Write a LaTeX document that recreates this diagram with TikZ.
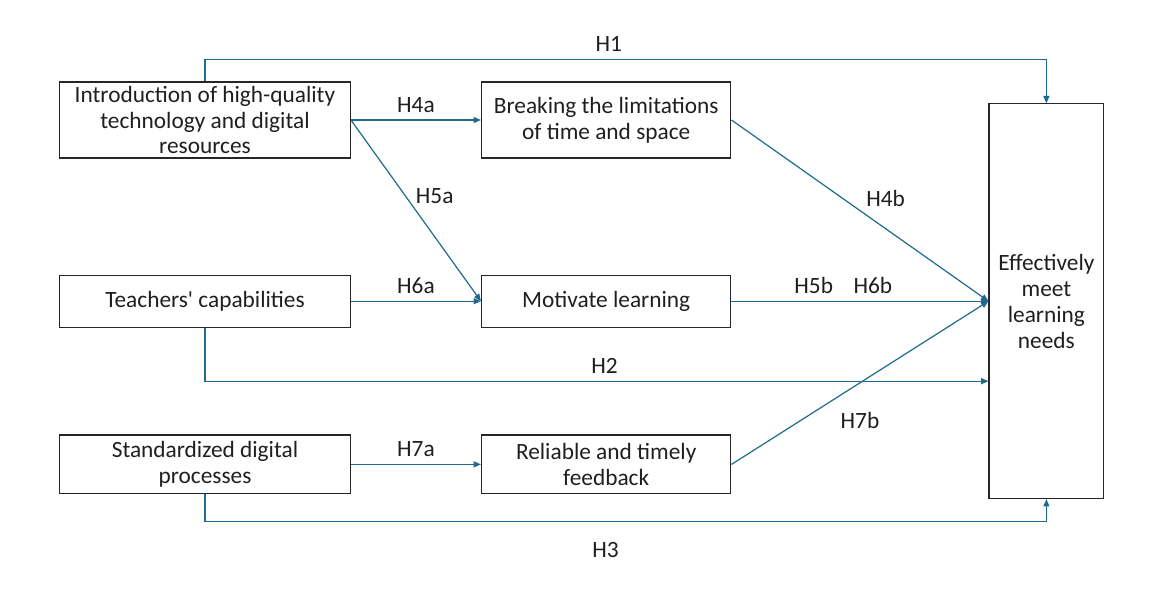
\documentclass[tikz,border=0pt]{standalone}
\usepackage{fontspec}
\setmainfont{Carlito}
\usetikzlibrary{arrows.meta,positioning}
\definecolor{hypblue}{HTML}{1F6A8C}
\definecolor{boxline}{HTML}{262626}

\begin{document}
\begin{tikzpicture}[x=0.75pt,y=-0.75pt,
  every node/.style={font=\fontsize{17.5}{19.4}\selectfont,text=black!88},
  box/.style={draw=boxline,line width=0.9pt,align=center,inner sep=0.5pt},
  factor/.style={box,minimum width=218pt},
  mediator/.style={box,minimum width=187pt},
  hyp/.style={draw=hypblue,line width=0.9pt,-{Triangle[length=5.5pt,width=4.5pt]}},
  hlabel/.style={above=2pt}]
\useasboundingbox (0,0) rectangle (1153,591);
\node[factor,minimum height=57pt] (intro) at (205,120) {Introduction of high-quality\\technology and digital\\resources};
\node[mediator,minimum height=57pt,right=97.5pt of intro] (breaking) {Breaking the limitations\\of time and space};
\node[factor,minimum height=39pt,below=87pt of intro] (teachers) {Teachers\textquotesingle{} capabilities};
\node[mediator,minimum height=39pt,right=97.5pt of teachers] (motivate) {Motivate learning};
\node[factor,minimum height=44pt,below=80pt of teachers] (standard) {Standardized digital\\processes};
\node[mediator,minimum height=44pt,right=97.5pt of standard] (feedback) {Reliable and timely\\feedback};
\node[box,minimum width=86pt,minimum height=296pt,right=192.75pt of motivate] (meet) {Effectively\\meet\\learning\\needs};
% direct effects
\draw[hyp] (intro.north) -- ++(0,-22) -| (meet.north) node[pos=0.24,hlabel]{H1};
\draw[hyp] (teachers.south) |- ([yshift=-60pt]meet.west) node[pos=0.755,hlabel]{H2};
\draw[hyp] (standard.south) -- ++(0,27) -| (meet.south) node[pos=0.238,below=12pt]{H3};
% mediated effects
\draw[hyp] (intro.east) -- (breaking.west) node[midway,hlabel]{H4a};
\draw[hyp] (intro.east) -- (motivate.west) node[pos=0.42,right=4pt]{H5a};
\draw[hyp] (teachers.east) -- (motivate.west) node[midway,hlabel]{H6a};
\draw[hyp] (standard.east) -- (feedback.west) node[midway,hlabel]{H7a};
\draw[hyp] (breaking.east) -- (meet.west) node[pos=0.6,above=13pt]{H4b};
\draw[hyp] (motivate.east) -- (meet.west) node[pos=0.32,hlabel]{H5b} node[pos=0.55,hlabel]{H6b};
\draw[hyp] (feedback.east) -- (meet.west) node[pos=0.5,below=18pt]{H7b};
\end{tikzpicture}
\end{document}
